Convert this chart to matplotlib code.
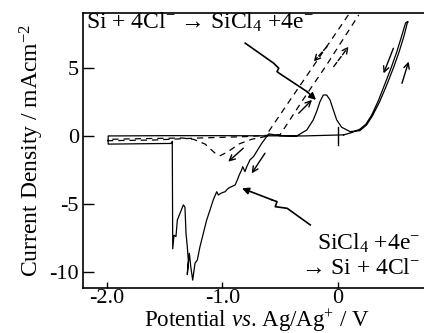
import matplotlib
matplotlib.use("Agg")
import matplotlib.pyplot as plt

plt.rcParams['font.family'] = ['Liberation Serif', 'DejaVu Serif']
plt.rcParams['mathtext.fontset'] = 'custom'
plt.rcParams['mathtext.rm'] = 'Liberation Serif'
plt.rcParams['mathtext.it'] = 'Liberation Serif:italic'
plt.rcParams['mathtext.bf'] = 'Liberation Serif:bold'

# ---- data (potential V vs Ag/Ag+, current density mA cm^-2) ----
solid_v = [0.05, -0.3, -1.0, -1.5, -1.99, -1.99, -1.44, -1.435,
           -1.431, -1.42, -1.403, -1.391, -1.368, -1.339, -1.325, -1.316, -1.305, -1.296,
           -1.305, -1.287, -1.275, -1.258, -1.238, -1.218, -1.195, -1.166, -1.137, -1.108,
           -1.08, -1.05, -1.036, -1.01, -0.978, -0.95, -0.92, -0.89, -0.872, -0.855,
           -0.834, -0.825, -0.805, -0.79, -0.762, -0.73, -0.66, -0.6, -0.5, -0.357,
           -0.27, -0.214, -0.185, -0.156, -0.127, -0.098, -0.069, -0.04, -0.011, 0.032,
           0.104, 0.19, 0.248, 0.30, 0.36, 0.42, 0.48, 0.53, 0.57, 0.60, 0.608,
           0.60, 0.585, 0.55, 0.51, 0.46, 0.41, 0.35, 0.29, 0.24, 0.19, 0.12, 0.05]
solid_i = [0.08, 0.0, 0.02, 0.02, 0.0, -0.6, -0.55, -0.4,
           -8.3, -7.3, -7.4, -6.18, -5.69, -5.07, -5.24, -7.16, -8.14, -9.12,
           -10.2, -8.63, -9.6, -10.6, -9.36, -9.12, -8.14, -7.16, -6.18, -5.44,
           -4.7, -4.1, -4.34, -4.2, -4.1, -3.85, -3.72, -3.6, -3.24, -2.87,
           -2.5, -2.26, -2.62, -2.26, -1.76, -1.5, -0.54, 0.15, 0.02, 0.0,
           0.44, 1.18, 1.79, 2.52, 3.01, 3.01, 2.65, 1.91, 1.18, 0.64,
           0.32, 0.39, 0.81, 1.5, 2.5, 3.7, 5.0, 6.2, 7.3, 8.3, 8.4,
           8.4, 8.3, 7.3, 6.2, 5.0, 3.9, 2.6, 1.5, 0.85, 0.5, 0.25, 0.08]

dash1_v = [0.09, -0.2, -0.45, -0.63, -0.75, -0.86, -0.95, -1.02, -1.06, -1.15,
           -1.25, -1.35, -1.7, -2.0]
dash1_i = [8.9, 5.3, 2.2, -0.05, -0.25, -0.6, -1.15, -1.45, -1.3, -0.6,
           -0.25, -0.15, -0.2, -0.25]
dash2_v = [-2.0, -1.6, -1.2, -0.8, -0.5, -0.3, -0.1, 0.18]
dash2_i = [-0.35, -0.3, -0.15, -0.05, 0.1, 2.7, 5.2, 8.9]

cross_v = [0.0, 0.0]
cross_i = [0.66, -0.66]

# direction arrows: (tail_v, tail_i, head_v, head_i, linestyle)
arrows = [(-0.095, 6.57, -0.21, 5.47, '--'),
          (-0.037, 5.1, 0.092, 6.57, '--'),
          (-0.34, 1.67, -0.225, 2.65, '-'),
          (0.48, 6.45, 0.395, 4.6, '-'),
          (0.554, 3.87, 0.612, 5.47, '-'),
          (-0.82, -0.9, -0.95, -1.89, '-'),
          (-0.632, -1.27, -0.747, -2.75, '-')]

# label leader lines (zigzag) ending with arrowhead
lead1_v = [-0.803, -0.557, -0.513, -0.528, -0.50, -0.268]
lead1_i = [6.82, 5.35, 4.98, 4.73, 4.56, 3.26]
lead1_head = (-0.19, 2.65)
lead2_v = [-0.24, -0.44, -0.543, -0.528, -0.571]
lead2_i = [-6.54, -5.32, -5.2, -4.83, -4.7]
lead2_head = (-0.831, -3.85)

xticks = [-2.0, -1.0, 0.0]
xticklabels = ['-2.0', '-1.0', '0']
yticks = [5, 0, -5, -10]
yticklabels = ['5', '0', '-5', '-10']

fig = plt.figure(figsize=(4.24, 3.33), dpi=100)
ax = fig.add_axes([83/424, 45/333, (424-83)/424, (288-13)/333])
ax.set_xlim(-2.208, 0.745)
ax.set_ylim(-11.18, 9.04)

lw = 0.9
ax.plot(solid_v, solid_i, color='black', lw=lw)
ax.plot(dash1_v, dash1_i, color='black', lw=lw, ls=(0, (5, 4)))
ax.plot(dash2_v, dash2_i, color='black', lw=lw, ls=(0, (5, 4)))
ax.plot(cross_v, cross_i, color='black', lw=1.0)

for tv, ti, hv, hi, ls in arrows:
    ax.annotate('', xy=(hv, hi), xytext=(tv, ti),
                arrowprops=dict(arrowstyle='->', lw=1.0, color='black',
                                linestyle=ls, mutation_scale=10,
                                shrinkA=0, shrinkB=0))

ax.plot(lead1_v, lead1_i, color='black', lw=1.2)
ax.annotate('', xy=lead1_head, xytext=(lead1_v[-1], lead1_i[-1]),
            arrowprops=dict(arrowstyle='-|>', lw=1.2, color='black',
                            mutation_scale=10, shrinkA=0, shrinkB=0))
ax.plot(lead2_v, lead2_i, color='black', lw=1.2)
ax.annotate('', xy=lead2_head, xytext=(lead2_v[-1], lead2_i[-1]),
            arrowprops=dict(arrowstyle='-|>', lw=1.2, color='black',
                            mutation_scale=10, shrinkA=0, shrinkB=0))

fs = 17
ax.text(-2.18, 7.9, 'Si + 4Cl$^{-}$ \u2192 SiCl$_4$ +4e$^{-}$', fontsize=fs,
        ha='left', va='baseline')
ax.text(0.71, -8.4, 'SiCl$_4$ +4e$^{-}$', fontsize=fs, ha='right', va='baseline')
ax.text(0.71, -10.15, '\u2192 Si + 4Cl$^{-}$', fontsize=fs, ha='right', va='baseline')

ax.set_xticks(xticks)
ax.set_xticklabels(xticklabels)
ax.set_yticks(yticks)
ax.set_yticklabels(yticklabels)
ax.tick_params(axis='both', labelsize=16, direction='in', width=1.0, colors='black')
ax.tick_params(axis='y', length=8, pad=3)
ax.tick_params(axis='x', length=4, pad=1)
ax.spines['right'].set_visible(False)
for s in ['left', 'top', 'bottom']:
    ax.spines[s].set_linewidth(1.2)

ax.set_xlabel(r'Potential $\it{vs}$. Ag/Ag$^{+}$ / V', fontsize=16.5, va='baseline')
ax.xaxis.set_label_coords(0.51, -0.142)
ax.set_ylabel(r'Current Density / mAcm$^{-2}$', fontsize=fs, labelpad=2)

fig.savefig('out.png', dpi=100)
